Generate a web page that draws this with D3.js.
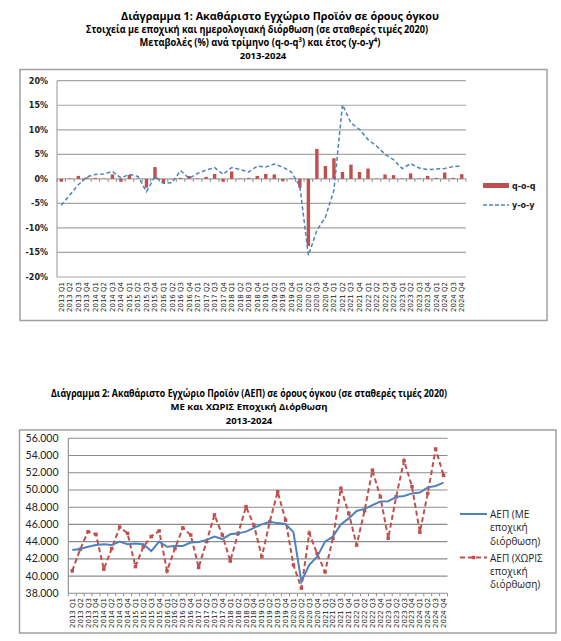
<!DOCTYPE html>
<html>
<head>
<meta charset="utf-8">
<script src="https://cdn.jsdelivr.net/npm/d3@7"></script>
<style>
body { margin: 0; background: #fff; }
svg { display: block; }
.title { font-family: "Open Sans", sans-serif; font-weight: bold; font-size: 10.5px; fill: #000; }
.xlab { font-family: "DejaVu Sans", sans-serif; font-size: 7px; fill: #222; }
.y1lab { font-family: "DejaVu Sans", sans-serif; font-weight: bold; font-size: 8px; fill: #222; }
.y2lab { font-family: Lato, sans-serif; font-size: 10.5px; fill: #222; }
.leg1 { font-family: "DejaVu Sans", sans-serif; font-weight: bold; font-size: 8px; fill: #222; }
.leg2 { font-family: "Open Sans", sans-serif; font-size: 10px; fill: #222; }
</style>
</head>
<body>
<svg width="561" height="641"></svg>
<script>
// categories
var years = [2013, 2014, 2015, 2016, 2017, 2018, 2019, 2020, 2021, 2022, 2023, 2024];
var quarterNames = ["Q1", "Q2", "Q3", "Q4"];
var quarters = [];
years.forEach(function(y) {
    quarterNames.forEach(function(q) { quarters.push(y + " " + q); });
});

// chart 1: % changes
var qoq = [-0.6, 0.1, 0.6, 0.3, 0.2, 0.1, 0.9, -0.6, 0.8, 0.1, -1.8, 2.4,
           -0.9, -0.1, 0.2, 0.6, 0.1, 0.4, 1.0, -0.6, 1.5, 0.1, 0.2, 0.6,
           1.0, 0.9, -0.5, 0.1, -1.8, -13.7, 6.1, 2.6, 4.2, 1.4, 2.9, 1.4,
           2.1, 0.1, 0.9, 0.75, 0.1, 1.1, 0.1, 0.6, 0.2, 1.3, 0.2, 0.95];
var yoy = [-5.4, -3.3, -1.2, 0.4, 0.9, 1.0, 1.5, 0.2, 0.9, 0.5, -2.6, 0.5,
           -0.9, -0.8, 1.7, 0.1, 1.1, 1.8, 2.3, 0.9, 2.3, 1.9, 1.4, 2.6,
           2.4, 3.0, 2.4, 1.4, -1.5, -15.6, -10.5, -7.8, -2.3, 15.1, 11.4, 10.1,
           8.0, 6.7, 5.0, 3.9, 2.1, 3.1, 2.2, 1.9, 2.0, 2.1, 2.5, 2.65];
var pctTicks = [-20, -15, -10, -5, 0, 5, 10, 15, 20];

// chart 2: GDP levels (million euro)
var gdpSA = [43030, 43150, 43400, 43600, 43700, 43600, 44000, 43700, 43770, 43700, 42900, 44000,
             43400, 43500, 43500, 43900, 43970, 44200, 44600, 44300, 44850, 44960, 45160, 45600,
             46000, 46300, 46150, 46050, 45100, 39350, 41300, 42250, 44000, 44600, 46000, 46700,
             47560, 47800, 48250, 48650, 48700, 49200, 49300, 49600, 49700, 50300, 50460, 50850];
var gdpNSA = [40600, 43100, 45160, 44850, 40800, 43200, 45700, 44960, 41100, 43400, 44600, 45240,
              40600, 43200, 45600, 44770, 41000, 44000, 47100, 44770, 41750, 44960, 48060, 45900,
              42250, 46300, 49800, 46500, 41300, 38600, 44970, 42600, 40500, 44400, 50200, 47300,
              43600, 47600, 52300, 49200, 44400, 49200, 53400, 50400, 45100, 49600, 54760, 51700];
var levelTicks = [38000, 40000, 42000, 44000, 46000, 48000, 50000, 52000, 54000, 56000];

var title1 = ["Διάγραμμα 1: Ακαθάριστο Εγχώριο Προϊόν σε όρους όγκου",
              "Στοιχεία με εποχική και ημερολογιακή διόρθωση (σε σταθερές τιμές 2020)",
              "Μεταβολές (%) ανά τρίμηνο (q-o-q³) και έτος (y-o-y⁴)",
              "2013-2024"];
var title2 = ["Διάγραμμα 2: Ακαθάριστο Εγχώριο Προϊόν (ΑΕΠ) σε όρους όγκου (σε σταθερές τιμές 2020)",
              "ΜΕ και ΧΩΡΙΣ Εποχική Διόρθωση",
              "2013-2024"];

var red = "#c0504d", blue = "#4f81bd", grid = "#a6a6a6", frame = "#a0a0a0";
var grLocale = d3.formatLocale({decimal: ",", thousands: ".", grouping: [3], currency: ["", "€"]});
var fmtLevel = grLocale.format(",.0f");

var svg = d3.select("svg");

// ---------- titles (long lines squeezed to the widths in the picture)
var t1 = svg.append("g").selectAll("text")
    .data(title1).enter().append("text")
    .attr("class", "title")
    .attr("text-anchor", "middle")
    .attr("x", function(d, i) { return [280, 257, 260, 263][i]; })
    .attr("y", function(d, i) { return 19.5 + i * 13.3; })
    .style("font-size", function(d, i) { return i == 3 ? "9.5px" : null; })
    .text(function(d) { return d; });
t1.filter(function(d, i) { return i < 3; })
    .attr("textLength", function(d, i) { return [318, 342, 241][i]; })
    .attr("lengthAdjust", "spacingAndGlyphs");

var t2 = svg.append("g").selectAll("text")
    .data(title2).enter().append("text")
    .attr("class", "title")
    .attr("text-anchor", "middle")
    .attr("x", 249)
    .attr("y", function(d, i) { return 397 + i * 13.3; })
    .style("font-size", function(d, i) { return i > 0 ? "9.5px" : null; })
    .text(function(d) { return d; });
t2.filter(function(d, i) { return i == 0; })
    .attr("textLength", 396).attr("lengthAdjust", "spacingAndGlyphs");

// ---------- chart 1
svg.append("rect")
    .attr("x", 20).attr("y", 69.5).attr("width", 527).attr("height", 251)
    .attr("fill", "none").attr("stroke", frame).attr("stroke-width", 1.5);

var x1 = d3.scaleBand().domain(quarters).range([57, 466]);
var y1 = d3.scaleLinear().domain([-20, 20]).range([277, 80.7]);

var g1 = svg.append("g");

g1.selectAll("line.grid")
    .data(pctTicks).enter().append("line")
    .attr("class", "grid")
    .attr("x1", 57).attr("x2", 466)
    .attr("y1", function(d) { return y1(d); })
    .attr("y2", function(d) { return y1(d); })
    .attr("stroke", grid).attr("stroke-width", 1.2);

g1.append("line")
    .attr("x1", 57).attr("x2", 57).attr("y1", y1(20)).attr("y2", y1(-20))
    .attr("stroke", grid).attr("stroke-width", 1.2);

g1.selectAll("text.y1lab")
    .data(pctTicks).enter().append("text")
    .attr("class", "y1lab")
    .attr("text-anchor", "end")
    .attr("x", 48)
    .attr("y", function(d) { return y1(d) + 3; })
    .text(function(d) { return d + "%"; });

// zero axis ticks between categories
g1.selectAll("line.tick")
    .data(quarters.concat(["end"])).enter().append("line")
    .attr("class", "tick")
    .attr("x1", function(d) { return d == "end" ? x1.range()[1] : x1(d); })
    .attr("x2", function(d) { return d == "end" ? x1.range()[1] : x1(d); })
    .attr("y1", y1(0)).attr("y2", y1(0) + 3)
    .attr("stroke", "#888").attr("stroke-width", 1);

var barW = 3.4;
g1.selectAll("rect.bar")
    .data(qoq).enter().append("rect")
    .attr("class", "bar")
    .attr("x", function(d, i) { return x1(quarters[i]) + x1.bandwidth() / 2 - barW / 2; })
    .attr("width", barW)
    .attr("y", function(d) { return y1(Math.max(0, d)); })
    .attr("height", function(d) { return Math.abs(y1(d) - y1(0)); })
    .attr("fill", red);

var line1 = d3.line()
    .x(function(d, i) { return x1(quarters[i]) + x1.bandwidth() / 2; })
    .y(function(d) { return y1(d); });

g1.append("path")
    .datum(yoy)
    .attr("d", line1)
    .attr("fill", "none")
    .attr("stroke", blue)
    .attr("stroke-width", 1.5)
    .attr("stroke-dasharray", "4,2.5");

g1.selectAll("text.xlab")
    .data(quarters).enter().append("text")
    .attr("class", "xlab")
    .attr("text-anchor", "end")
    .attr("transform", function(d) {
        return "translate(" + (x1(d) + x1.bandwidth() / 2 + 2.5) + "," + 282 + ") rotate(-90)";
    })
    .text(function(d) { return d; });

// legend 1
g1.append("rect").attr("x", 483).attr("y", 183).attr("width", 26).attr("height", 5).attr("fill", red);
g1.append("text").attr("class", "leg1").attr("x", 512).attr("y", 188.5).text("q-o-q");
g1.append("line").attr("x1", 483).attr("x2", 509).attr("y1", 205).attr("y2", 205)
    .attr("stroke", blue).attr("stroke-width", 1.5).attr("stroke-dasharray", "4,2");
g1.append("text").attr("class", "leg1").attr("x", 512).attr("y", 208).text("y-o-y");

// ---------- chart 2
svg.append("rect")
    .attr("x", 19.5).attr("y", 430).attr("width", 536.5).attr("height", 203)
    .attr("fill", "none").attr("stroke", frame).attr("stroke-width", 1.5);

var x2 = d3.scaleBand().domain(quarters).range([68.3, 447.5]);
var y2 = d3.scaleLinear().domain([38000, 56000]).range([593.3, 438.3]);

var g2 = svg.append("g");

g2.selectAll("line.grid")
    .data(levelTicks).enter().append("line")
    .attr("class", "grid")
    .attr("x1", 68.3).attr("x2", 447.5)
    .attr("y1", function(d) { return y2(d); })
    .attr("y2", function(d) { return y2(d); })
    .attr("stroke", "#8c8c8c").attr("stroke-width", 1.1);

g2.append("line")
    .attr("x1", 68.3).attr("x2", 68.3).attr("y1", y2(56000)).attr("y2", y2(38000))
    .attr("stroke", "#8c8c8c").attr("stroke-width", 1.1);

g2.selectAll("line.tick")
    .data(quarters.concat(["end"])).enter().append("line")
    .attr("class", "tick")
    .attr("x1", function(d) { return d == "end" ? x2.range()[1] : x2(d); })
    .attr("x2", function(d) { return d == "end" ? x2.range()[1] : x2(d); })
    .attr("y1", y2(38000)).attr("y2", y2(38000) + 3)
    .attr("stroke", "#8c8c8c").attr("stroke-width", 1);

g2.selectAll("text.y2lab")
    .data(levelTicks).enter().append("text")
    .attr("class", "y2lab")
    .attr("text-anchor", "end")
    .attr("x", 58.5)
    .attr("y", function(d) { return y2(d) + 3.5; })
    .text(function(d) { return fmtLevel(d); });

var line2 = d3.line()
    .x(function(d, i) { return x2(quarters[i]) + x2.bandwidth() / 2; })
    .y(function(d) { return y2(d); });

g2.append("path")
    .datum(gdpNSA)
    .attr("d", line2)
    .attr("fill", "none")
    .attr("stroke", red)
    .attr("stroke-width", 2)
    .attr("stroke-dasharray", "5,3");

g2.selectAll("rect.mark")
    .data(gdpNSA).enter().append("rect")
    .attr("class", "mark")
    .attr("x", function(d, i) { return x2(quarters[i]) + x2.bandwidth() / 2 - 1.75; })
    .attr("y", function(d) { return y2(d) - 1.75; })
    .attr("width", 3.5).attr("height", 3.5)
    .attr("fill", red);

g2.append("path")
    .datum(gdpSA)
    .attr("d", line2)
    .attr("fill", "none")
    .attr("stroke", blue)
    .attr("stroke-width", 2);

g2.selectAll("text.xlab")
    .data(quarters).enter().append("text")
    .attr("class", "xlab")
    .attr("text-anchor", "end")
    .attr("transform", function(d) {
        return "translate(" + (x2(d) + x2.bandwidth() / 2 + 2.5) + "," + 598 + ") rotate(-90)";
    })
    .text(function(d) { return d; });

// legend 2
g2.append("line").attr("x1", 460).attr("x2", 487).attr("y1", 514).attr("y2", 514)
    .attr("stroke", blue).attr("stroke-width", 2);
g2.selectAll("text.l2a")
    .data(["ΑΕΠ (ΜΕ", "εποχική", "διόρθωση)"]).enter().append("text")
    .attr("class", "leg2")
    .attr("x", 490).attr("y", function(d, i) { return 518 + i * 13.3; })
    .text(function(d) { return d; });

g2.append("line").attr("x1", 460).attr("x2", 487).attr("y1", 557.5).attr("y2", 557.5)
    .attr("stroke", red).attr("stroke-width", 2).attr("stroke-dasharray", "5,3");
g2.append("rect").attr("x", 471.75).attr("y", 555.75).attr("width", 3.5).attr("height", 3.5).attr("fill", red);
g2.selectAll("text.l2b")
    .data(["ΑΕΠ (ΧΩΡΙΣ", "εποχική", "διόρθωση)"]).enter().append("text")
    .attr("class", "leg2")
    .attr("x", 490).attr("y", function(d, i) { return 561.5 + i * 13.3; })
    .text(function(d) { return d; });
</script>
</body>
</html>
